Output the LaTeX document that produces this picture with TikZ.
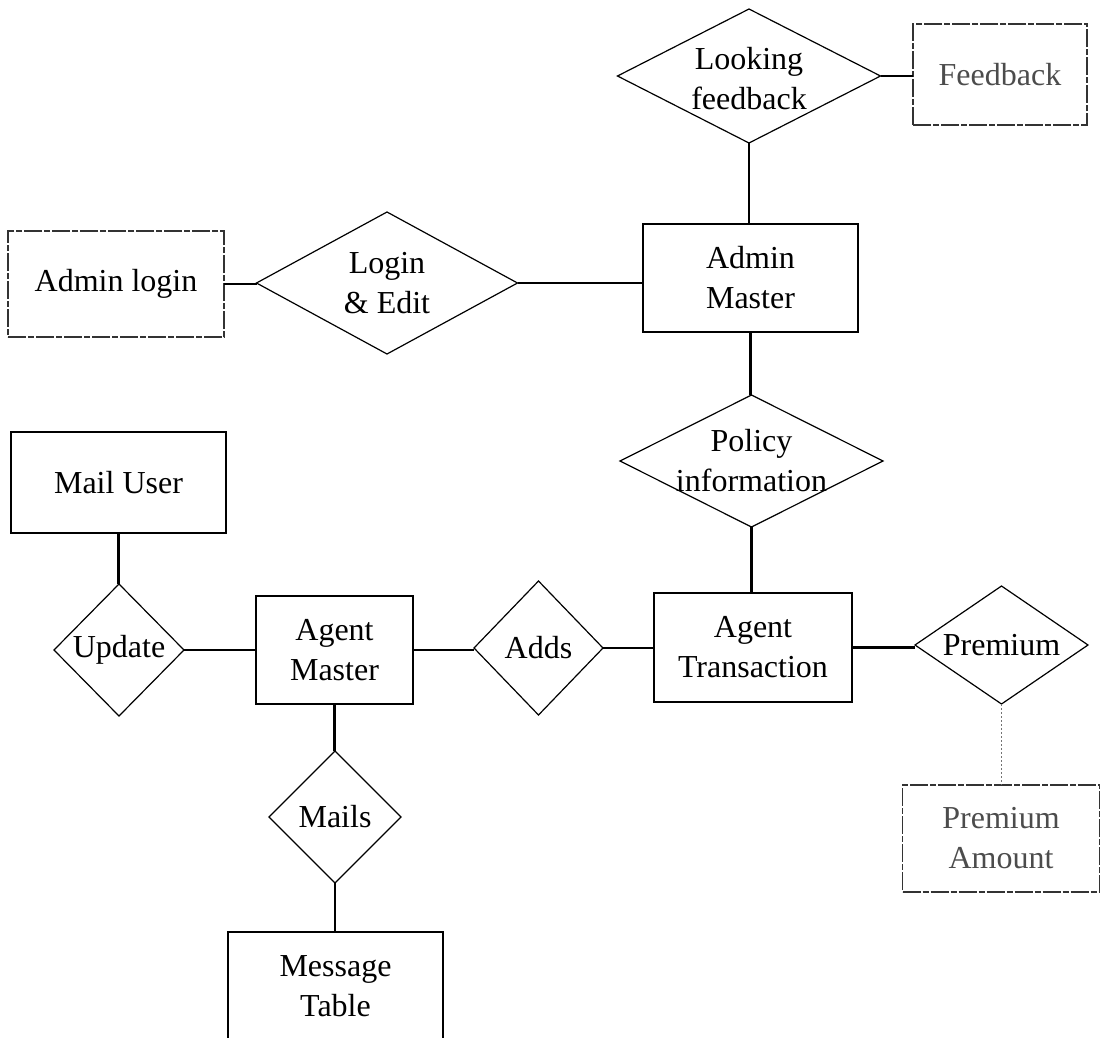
\documentclass[tikz,border=0pt]{standalone}
\usepackage{fontspec}
\setmainfont{Liberation Serif}
\usetikzlibrary{shapes.geometric}
\begin{document}
\begin{tikzpicture}[x=1pt,y=-1pt,
  every node/.style={outer sep=0pt, font=\fontsize{32}{40}\selectfont},
  entity/.style={rectangle, draw, line width=1.4pt, inner sep=0pt, align=center},
  broken/.style={draw=black!80, dash pattern=on 18pt off 2pt on 6pt off 2pt},
  paletext/.style={text=black!70},
  rel/.style={diamond, draw, line width=1.2pt, inner sep=0pt},
  lbl/.style={inner sep=0pt, align=center},
  conn/.style={line width=2.8pt},
  weak/.style={line width=1pt, draw=black!55, dash pattern=on 2pt off 2pt}]
\useasboundingbox (0,0) rectangle (1109,1037);
\clip (0,0) rectangle (1109,1037);

% administration part
\node[entity, broken, paletext, minimum width=174pt, minimum height=101pt] (fb) at (1000,74.5) {Feedback};
\node[rel, minimum width=263pt, minimum height=134pt] (lf) at (749,76) {};
\node[lbl] (lft) at (749,79) {Looking\\feedback};
\node[entity, broken, minimum width=216pt, minimum height=106pt] (al) at (116,284) {Admin login};
\node[rel, minimum width=261pt, minimum height=142pt] (le) at (387,283) {};
\node[lbl] (let) at (le) {Login\\\& Edit};
\node[entity, minimum width=215pt, minimum height=108pt] (am) at (750.5,278) {Admin\\Master};
\node[rel, minimum width=263pt, minimum height=132pt] (pi) at (751.5,461) {};
\node[lbl] (pit) at (pi) {Policy\\information};

% agent part
\node[entity, minimum width=198pt, minimum height=109pt] (at) at (753,647.5) {Agent\\Transaction};
\node[rel, minimum width=173pt, minimum height=118pt] (pr) at (1001.5,645) {};
\node[lbl] (prt) at (pr) {Premium};
\node[entity, broken, paletext, minimum width=197pt, minimum height=107pt] (pa) at (1001,838.5) {Premium\\Amount};
\node[rel, minimum width=129pt, minimum height=134pt] (ad) at (538.5,648) {};
\node[lbl] (adt) at (ad) {Adds};
\node[entity, minimum width=157pt, minimum height=108pt] (ag) at (334.5,650) {Agent\\Master};
\node[rel, minimum width=130pt, minimum height=132pt] (up) at (119,650) {};
\node[lbl] (upt) at (up) {Update};
\node[entity, minimum width=215pt, minimum height=101pt] (mu) at (118.5,482.5) {Mail User};
\node[rel, minimum width=132pt, minimum height=132pt] (ml) at (335,817) {};
\node[lbl] (mlt) at (ml) {Mails};
\node[entity, minimum width=215pt, minimum height=108pt] (mt) at (335.5,986) {Message\\Table};

% relationship lines
\draw[conn] (lf.east) -- (fb.west |- lf.east);
\draw[conn] (lf.south) -- (lf.south |- am.north);
\draw[conn] (al.east) -- (al.east -| le.west);
\draw[conn] (le.east) -- (le.east -| am.west);
\draw[conn] (am.south) -- (am.south |- pi.north);
\draw[conn] (pi.south) -- (pi.south |- at.north);
\draw[conn] (at.east) -- (at.east -| pr.west);
\draw[weak] (pr.south) -- (pr.south |- pa.north);
\draw[conn] (ag.east) -- (ag.east -| ad.west);
\draw[conn] (ad.east) -- (ad.east -| at.west);
\draw[conn] (mu.south) -- (mu.south |- up.north);
\draw[conn] (up.east) -- (up.east -| ag.west);
\draw[conn] (ag.south) -- (ag.south |- ml.north);
\draw[conn] (ml.south) -- (ml.south |- mt.north);
\end{tikzpicture}
\end{document}
